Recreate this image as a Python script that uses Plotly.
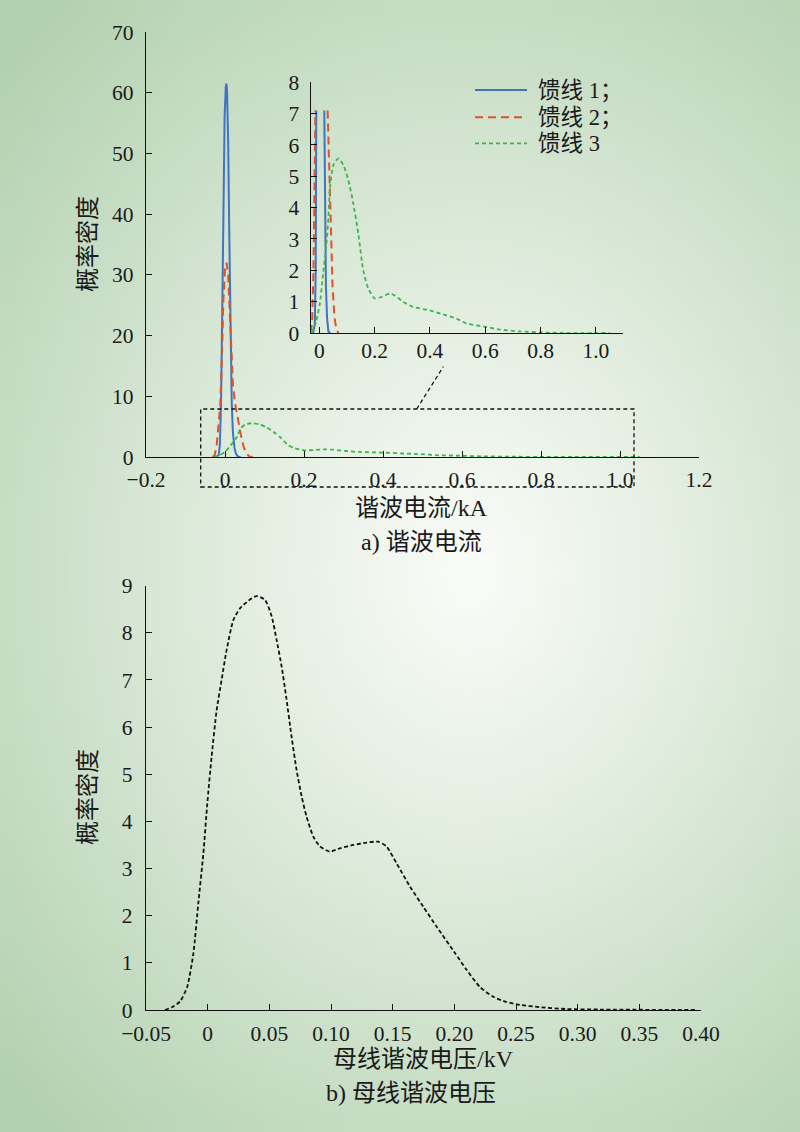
import base64, struct, zlib
import plotly.graph_objects as go

# ---------------- data ----------------
feeder1_x = [-0.022, -0.016, -0.013, -0.010, -0.007, -0.004, -0.001, 0.002, 0.0035, 0.005,
             0.008, 0.011, 0.014, 0.017, 0.020, 0.024, 0.028, 0.033, 0.040]
feeder1_y = [0, 0.3, 2.0, 9.0, 24, 42, 56, 61, 61.5, 60.5,
             52, 36, 20, 9.0, 4.0, 1.5, 0.5, 0.05, 0]

feeder2_x = [-0.032, -0.026, -0.021, -0.016, -0.012, -0.008, -0.004, 0.000, 0.004, 0.008,
             0.012, 0.016, 0.020, 0.025, 0.030, 0.036, 0.042, 0.048, 0.055, 0.062, 0.070]
feeder2_y = [0, 0.3, 2.0, 5.5, 8.5, 16, 26, 31, 32, 30,
             24, 18, 12, 9.0, 7.2, 5.0, 3.0, 1.5, 0.5, 0.1, 0]

feeder3_x = [-0.028, -0.012, 0.002, 0.014, 0.027, 0.033, 0.039, 0.051, 0.069, 0.087,
             0.105, 0.123, 0.141, 0.159, 0.177, 0.201, 0.225, 0.255, 0.273, 0.304,
             0.34, 0.40, 0.46, 0.496, 0.533, 0.593, 0.653, 0.725, 0.80, 0.88, 1.05]
feeder3_y = [0, 0.35, 0.94, 1.9, 2.96, 3.7, 4.66, 5.36, 5.57, 5.36,
             4.88, 4.13, 3.17, 2.0, 1.42, 1.10, 1.15, 1.26, 1.20, 0.99,
             0.83, 0.72, 0.56, 0.46, 0.30, 0.21, 0.11, 0.05, 0.02, 0.0, 0.0]

bus_x = [-0.0346, -0.029, -0.0224, -0.0165, -0.0116, -0.0076, -0.0035, -0.0003, 0.0032, 0.0073,
         0.0113, 0.0154, 0.0208, 0.0262, 0.033, 0.0397, 0.0465, 0.0519, 0.0559, 0.060,
         0.064, 0.068, 0.0721, 0.0762, 0.0802, 0.0856, 0.091, 0.0991, 0.1072, 0.118,
         0.1288, 0.1383, 0.145, 0.1532, 0.164, 0.1748, 0.1856, 0.2005, 0.210, 0.2207,
         0.2315, 0.2423, 0.253, 0.269, 0.291, 0.318, 0.396]
bus_y = [0, 0.06, 0.18, 0.5, 1.2, 2.26, 3.32, 4.38, 5.37, 6.36,
         7.0, 7.64, 8.27, 8.52, 8.68, 8.78, 8.70, 8.35, 7.85, 7.28,
         6.58, 5.8, 5.09, 4.53, 4.1, 3.68, 3.47, 3.36, 3.43, 3.5,
         3.55, 3.57, 3.47, 3.11, 2.62, 2.19, 1.77, 1.21, 0.85, 0.49,
         0.28, 0.17, 0.11, 0.06, 0.02, 0.01, 0.0]

names = ["馈线 1；", "馈线 2；", "馈线 3"]

top_x_ticks = [-0.2, 0, 0.2, 0.4, 0.6, 0.8, 1.0, 1.2]
top_x_text = ["−0.2", "0", "0.2", "0.4", "0.6", "0.8", "1.0", "1.2"]
top_y_ticks = [0, 10, 20, 30, 40, 50, 60, 70]
inset_x_ticks = [0, 0.2, 0.4, 0.6, 0.8, 1.0]
inset_x_text = ["0", "0.2", "0.4", "0.6", "0.8", "1.0"]
inset_y_ticks = [0, 1, 2, 3, 4, 5, 6, 7, 8]
bot_x_ticks = [-0.05, 0, 0.05, 0.10, 0.15, 0.20, 0.25, 0.30, 0.35, 0.40]
bot_x_text = ["−0.05", "0", "0.05", "0.10", "0.15", "0.20", "0.25", "0.30", "0.35", "0.40"]
bot_y_ticks = [0, 1, 2, 3, 4, 5, 6, 7, 8, 9]

INSET_CLIP = 7.1

# ---------------- helpers ----------------
W, H = 800, 1132


def px(x):
    return x / W


def py(y):
    return 1 - y / H


def clip_series(xs, ys, ymax):
    """Break a line where it rises above ymax, adding the crossing points."""
    ox, oy = [], []
    for i in range(len(xs)):
        if i > 0:
            y0, y1 = ys[i - 1], ys[i]
            if (y0 - ymax) * (y1 - ymax) < 0:
                t = (ymax - y0) / (y1 - y0)
                xc = xs[i - 1] + t * (xs[i] - xs[i - 1])
                ox.append(xc)
                oy.append(ymax)
                if y1 > ymax:
                    ox.append(None)
                    oy.append(None)
        if ys[i] <= ymax:
            ox.append(xs[i])
            oy.append(ys[i])
    return ox, oy


def gradient_png(w, h):
    cx, cy = 0.58 * w, 0.50 * h
    edge = (178, 209, 175)
    center = (250, 252, 248)
    R = 0.80 * w
    rows = []
    for j in range(h):
        row = bytearray([0])
        for i in range(w):
            d = ((i - cx) ** 2 + ((j - cy) * 0.85) ** 2) ** 0.5 / R
            t = min(1.0, d) ** 1.1
            for k in range(3):
                row.append(int(center[k] + (edge[k] - center[k]) * t))
        rows.append(bytes(row))
    raw = b"".join(rows)

    def chunk(tag, data):
        c = struct.pack(">I", len(data)) + tag + data
        return c + struct.pack(">I", zlib.crc32(tag + data) & 0xffffffff)

    png = b"\x89PNG\r\n\x1a\n"
    png += chunk(b"IHDR", struct.pack(">IIBBBBB", w, h, 8, 2, 0, 0, 0))
    png += chunk(b"IDAT", zlib.compress(raw, 9))
    png += chunk(b"IEND", b"")
    return "data:image/png;base64," + base64.b64encode(png).decode()


SERIF = "Liberation Serif, Times New Roman, Noto Sans CJK SC, serif"
TICKFONT = dict(family=SERIF, size=21.5, color="#1a1a1a")
CJKFONT = dict(family=SERIF, size=24, color="#1a1a1a")
LEGFONT = dict(family=SERIF, size=22.5, color="#1a1a1a")

C1, C2, C3 = "#3f74c2", "#e0522a", "#3cb54a"
D2, D3 = "8px,5px", "4px,3px"
COLORS = [C1, C2, C3]
DASHES = ["solid", D2, D3]
WIDTHS = [2, 2, 1.8]

fig = go.Figure()

# main panel a)
fig.add_trace(go.Scatter(x=feeder1_x, y=feeder1_y, mode="lines", line=dict(color=C1, width=2),
                         xaxis="x", yaxis="y", name=names[0]))
fig.add_trace(go.Scatter(x=feeder2_x, y=feeder2_y, mode="lines", line=dict(color=C2, width=2, dash=D2),
                         xaxis="x", yaxis="y", name=names[1]))
fig.add_trace(go.Scatter(x=feeder3_x, y=feeder3_y, mode="lines",
                         line=dict(color=C3, width=1.8, dash=D3, shape="spline", smoothing=0.6),
                         xaxis="x", yaxis="y", name=names[2]))

# inset
ix1, iy1 = clip_series(feeder1_x, feeder1_y, INSET_CLIP)
ix2, iy2 = clip_series(feeder2_x, feeder2_y, INSET_CLIP)
fig.add_trace(go.Scatter(x=ix1, y=iy1, mode="lines", line=dict(color=C1, width=2), name=names[0],
                         xaxis="x3", yaxis="y3", connectgaps=False))
fig.add_trace(go.Scatter(x=ix2, y=iy2, mode="lines", line=dict(color=C2, width=2, dash=D2), name=names[1],
                         xaxis="x3", yaxis="y3", connectgaps=False))
fig.add_trace(go.Scatter(x=feeder3_x, y=feeder3_y, mode="lines",
                         line=dict(color=C3, width=1.8, dash=D3, shape="spline", smoothing=0.6),
                         name=names[2], xaxis="x3", yaxis="y3"))

# panel b)
fig.add_trace(go.Scatter(x=bus_x, y=bus_y, mode="lines",
                         line=dict(color="#111111", width=1.8, dash="4px,2.5px", shape="spline", smoothing=0.6),
                         xaxis="x2", yaxis="y2", name="母线谐波电压"))

axis_common = dict(showline=True, linecolor="#111111", linewidth=1.3, ticks="inside",
                   tickcolor="#111111", tickwidth=1.3, ticklen=6, showgrid=False,
                   zeroline=False, tickfont=TICKFONT, tickmode="array", automargin=False)

# legend drawn in the inset's upper right (sample line + label per series)
legend_rows_y = [90, 117.3, 143.3]
legend_shapes = []
legend_texts = []
for k in range(3):
    legend_shapes.append(dict(type="line", xref="paper", yref="paper",
                              x0=px(475), x1=px(527), y0=py(legend_rows_y[k]), y1=py(legend_rows_y[k]),
                              line=dict(color=COLORS[k], width=WIDTHS[k], dash=DASHES[k])))
    legend_texts.append(dict(text=names[k], x=px(536), y=py(legend_rows_y[k]), xref="paper", yref="paper",
                             showarrow=False, font=LEGFONT, xanchor="left", yanchor="middle"))

fig.update_layout(
    width=W, height=H,
    showlegend=False,
    margin=dict(l=0, r=0, t=0, b=0, pad=0, autoexpand=False),
    paper_bgcolor="#cfe3cc",
    plot_bgcolor="rgba(0,0,0,0)",
    xaxis=dict(domain=[px(146), px(699)], range=[-0.2, 1.2], anchor="y",
               tickvals=top_x_ticks, ticktext=top_x_text, ticklabelstandoff=3, **axis_common),
    yaxis=dict(domain=[py(457), py(32)], range=[0, 70], anchor="x",
               tickvals=top_y_ticks, ticklabelstandoff=7, **axis_common),
    xaxis3=dict(domain=[px(310.7), px(623.3)], range=[-0.031, 1.099], anchor="y3",
                tickvals=inset_x_ticks, ticktext=inset_x_text, ticklabelstandoff=-2, **axis_common),
    yaxis3=dict(domain=[py(333), py(82.3)], range=[0, 8], anchor="x3",
                tickvals=inset_y_ticks, ticklabelstandoff=6, **axis_common),
    xaxis2=dict(domain=[px(146), px(701)], range=[-0.05, 0.40], anchor="y2",
                tickvals=bot_x_ticks, ticktext=bot_x_text, ticklabelstandoff=4, **axis_common),
    yaxis2=dict(domain=[py(1010), py(585.7)], range=[0, 9], anchor="x2",
                tickvals=bot_y_ticks, ticklabelstandoff=8, **axis_common),
    images=[dict(source=gradient_png(80, 113), xref="paper", yref="paper", x=0, y=1,
                 sizex=1, sizey=1, sizing="stretch", layer="below", xanchor="left", yanchor="top")],
    shapes=[
        dict(type="rect", xref="paper", yref="paper", x0=px(200.7), x1=px(634), y0=py(487), y1=py(409),
             line=dict(color="#111111", width=1.3, dash="4px,3px")),
        dict(type="line", xref="paper", yref="paper", x0=px(416.7), y0=py(409), x1=px(443.3), y1=py(366.7),
             line=dict(color="#111111", width=1.3, dash="4px,3px")),
    ] + legend_shapes,
    annotations=[
        dict(text="概率密度", x=px(88), y=py(244), xref="paper", yref="paper", showarrow=False,
             textangle=-90, font=CJKFONT, xanchor="center", yanchor="middle"),
        dict(text="谐波电流/kA", x=px(421), y=py(508), xref="paper", yref="paper", showarrow=False,
             font=CJKFONT, xanchor="center", yanchor="middle"),
        dict(text="a) 谐波电流", x=px(421.7), y=py(542), xref="paper", yref="paper", showarrow=False,
             font=CJKFONT, xanchor="center", yanchor="middle"),
        dict(text="概率密度", x=px(88), y=py(797), xref="paper", yref="paper", showarrow=False,
             textangle=-90, font=CJKFONT, xanchor="center", yanchor="middle"),
        dict(text="母线谐波电压/kV", x=px(423), y=py(1059), xref="paper", yref="paper", showarrow=False,
             font=CJKFONT, xanchor="center", yanchor="middle"),
        dict(text="b) 母线谐波电压", x=px(411), y=py(1093), xref="paper", yref="paper", showarrow=False,
             font=CJKFONT, xanchor="center", yanchor="middle"),
    ] + legend_texts,
)

fig.write_html("out.html", config={"displayModeBar": False},
               post_script="document.body.style.margin='0px';")
